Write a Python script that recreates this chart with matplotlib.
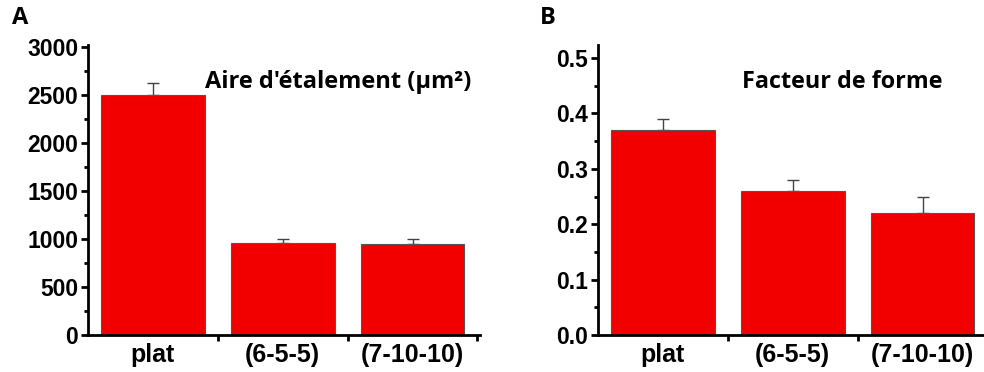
import matplotlib.pyplot as plt
from matplotlib.ticker import MultipleLocator, FixedLocator

categories = ["plat", "(6-5-5)", "(7-10-10)"]
aire = [2500, 960, 945]
aire_err = [125, 40, 55]
forme = [0.37, 0.26, 0.22]
forme_err = [0.02, 0.02, 0.03]
aire_ticks = [0, 500, 1000, 1500, 2000, 2500, 3000]
aire_labels = ["0", "500", "1000", "1500", "2000", "2500", "3000"]
forme_ticks = [0.0, 0.1, 0.2, 0.3, 0.4, 0.5]
forme_labels = ["0.0", "0.1", "0.2", "0.3", "0.4", "0.5"]

W, H = 984, 372
fig = plt.figure(figsize=(W / 100, H / 100), dpi=100)

tick_font = dict(family=["Liberation Sans", "DejaVu Sans"], weight="bold")
title_font = ["Open Sans", "DejaVu Sans"]


def panel(left, right, vals, errs, ylim, ticks, labels, minor):
    ax = fig.add_axes([left / W, (H - 335) / H, (right - left) / W, 290 / H])
    x = [1, 2, 3]
    ax.bar(x, vals, width=0.8, color="#f20000", edgecolor="#555555", linewidth=0.8, zorder=2)
    ax.errorbar(x, vals, yerr=[[0] * 3, errs], fmt="none", ecolor="#444444",
                elinewidth=1.0, capsize=4, capthick=1.0, zorder=1)
    ax.set_xlim(0.5, 3.52)
    ax.spines["top"].set_visible(False)
    ax.spines["right"].set_visible(False)
    for s in ("left", "bottom"):
        ax.spines[s].set_linewidth(2)
    ax.set_yticks(ticks)
    ax.set_yticklabels(labels, fontsize=16.5, **tick_font)
    ax.yaxis.set_minor_locator(MultipleLocator(minor))
    ax.set_ylim(*ylim)
    ax.tick_params(axis="y", which="major", length=5, width=2, pad=2)
    ax.tick_params(axis="y", which="minor", length=3, width=2)
    ax.set_xticks(x)
    ax.set_xticklabels(categories, fontsize=18, **tick_font)
    ax.xaxis.set_minor_locator(FixedLocator([1, 1.5, 2.5, 3.5]))
    ax.tick_params(axis="x", which="major", length=0, pad=6)
    ax.tick_params(axis="x", which="minor", length=4, width=2)
    return ax


axA = panel(88, 480, aire, aire_err, (0, 3020), aire_ticks, aire_labels, 250)
axB = panel(598, 990, forme, forme_err, (0, 0.5236), forme_ticks, forme_labels, 0.05)

fig.text(205 / W, 1 - 82 / H, "Aire d'étalement (µm²)", family=title_font,
         weight="bold", fontsize=17, va="center", ha="left")
fig.text(742 / W, 1 - 82 / H, "Facteur de forme", family=title_font,
         weight="bold", fontsize=16.8, va="center", ha="left")
fig.text(12 / W, 1 - 18 / H, "A", family=title_font, weight="bold", fontsize=17,
         va="center", ha="left")
fig.text(540 / W, 1 - 18 / H, "B", family=title_font, weight="bold", fontsize=17,
         va="center", ha="left")

fig.savefig("out.png", dpi=100)
